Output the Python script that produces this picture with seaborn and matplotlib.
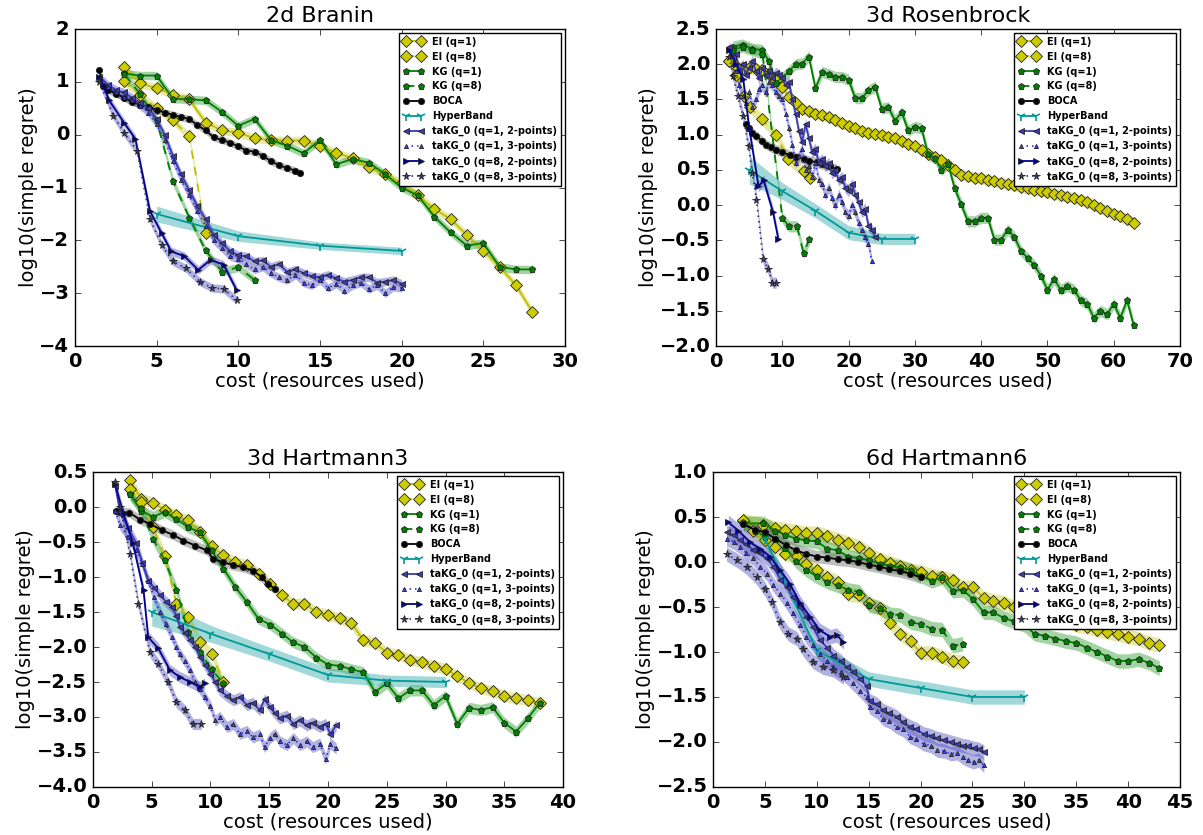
import matplotlib
matplotlib.use("Agg")
import matplotlib.pyplot as plt
import seaborn as sns
import numpy as np

# ---------------- 2d Branin ----------------
branin_ei1_x = [3, 4, 5, 6, 7, 8, 9, 10, 11, 12, 13, 14, 15, 16, 17, 18, 19, 20, 21, 22, 23, 24, 25, 26, 27, 28]
branin_ei1_y = [1.28, 0.97, 0.88, 0.76, 0.67, 0.23, 0.08, 0.04, -0.07, -0.10, -0.11, -0.11, -0.21, -0.34, -0.45,
                -0.62, -0.75, -0.92, -1.15, -1.4, -1.6, -1.9, -2.2, -2.5, -2.85, -3.35]
branin_ei8_x = [3, 4, 5, 6, 7, 8]
branin_ei8_y = [1.01, 0.75, 0.5, 0.27, -0.03, -1.86]
branin_kg1_x = [3, 4, 5, 6, 7, 8, 9, 10, 11, 12, 13, 14, 15, 16, 17, 18, 19, 20, 21, 22, 23, 24, 25, 26, 27, 28]
branin_kg1_y = [1.16, 1.12, 1.12, 0.68, 0.67, 0.65, 0.43, 0.17, 0.30, -0.10, -0.21, -0.35, -0.10, -0.56, -0.46,
                -0.53, -0.75, -1.0, -1.15, -1.55, -1.85, -2.1, -2.05, -2.5, -2.55, -2.55]
branin_kg8_x = [3, 4, 5, 6, 7, 8, 9, 10, 11]
branin_kg8_y = [1.15, 0.77, 0.27, -0.88, -1.57, -2.19, -2.59, -2.51, -2.75]
branin_boca_x = [1.5, 1.7, 2.0, 2.5, 3.0, 3.5, 4.0, 4.5, 5.0, 5.5, 6.0, 6.5, 7.0, 7.5, 8.0, 8.5, 9.0, 9.5, 10.0,
                 10.5, 11.0, 11.5, 12.0, 12.5, 13.0, 13.5, 13.8]
branin_boca_y = [1.22, 0.92, 0.85, 0.78, 0.70, 0.62, 0.57, 0.53, 0.47, 0.42, 0.38, 0.33, 0.30, 0.18, 0.08, -0.05,
                 -0.10, -0.15, -0.22, -0.30, -0.32, -0.40, -0.50, -0.58, -0.63, -0.68, -0.73]
branin_hb_x = [5, 10, 15, 20]
branin_hb_y = [-1.5, -1.92, -2.1, -2.2]
branin_hb_err = [0.15, 0.1, 0.07, 0.07]
branin_t12_x = [1.5, 2, 2.5, 3, 3.5, 4, 4.5, 5, 5.5, 6, 6.5, 7, 7.5, 8, 8.5, 9, 9.5, 10, 10.5, 11, 11.5, 12, 12.5,
                13, 13.5, 14, 14.5, 15, 15.5, 16, 16.5, 17, 17.5, 18, 18.5, 19, 19.5, 20]
branin_t12_y = [1.1, 0.95, 0.85, 0.8, 0.7, 0.6, 0.5, 0.3, 0.0, -0.4, -0.75, -1.05, -1.35, -1.6, -1.9, -2.05, -2.2,
                -2.28, -2.3, -2.4, -2.38, -2.5, -2.45, -2.6, -2.55, -2.62, -2.68, -2.7, -2.65, -2.72, -2.78, -2.75,
                -2.7, -2.7, -2.8, -2.78, -2.75, -2.82]
branin_t13_x = branin_t12_x
branin_t13_y = [1.05, 0.9, 0.8, 0.72, 0.65, 0.55, 0.42, 0.2, -0.1, -0.5, -0.85, -1.15, -1.45, -1.72, -2.0, -2.15,
                -2.3, -2.35, -2.45, -2.55, -2.5, -2.62, -2.7, -2.75, -2.65, -2.8, -2.85, -2.75, -2.9, -2.82, -2.95,
                -2.85, -2.8, -2.92, -2.85, -3.0, -2.88, -2.9]
branin_t82_x = [1.5, 2.1, 3.0, 3.7, 4.6, 5.3, 5.9, 6.7, 7.55, 8.3, 9.1, 9.9]
branin_t82_y = [1.1, 0.65, 0.23, -0.08, -1.45, -1.86, -2.21, -2.3, -2.56, -2.37, -2.46, -2.94]
branin_t83_x = [1.5, 2.35, 3.0, 3.8, 4.6, 5.3, 6.0, 6.8, 7.65, 8.4, 9.1, 9.9]
branin_t83_y = [1.0, 0.36, 0.04, -0.3, -1.6, -2.08, -2.4, -2.53, -2.78, -2.9, -2.92, -3.13]

# ---------------- 3d Rosenbrock ----------------
rosen_ei1_x = [2, 3, 4, 5, 6, 7, 8, 9, 10, 11, 12, 13, 14, 15, 16, 17, 18, 19, 20, 21, 22, 23, 24, 25, 26, 27, 28,
               29, 30, 31, 32, 33, 34, 35, 36, 37, 38, 39, 40, 41, 42, 43, 44, 45, 46, 47, 48, 49, 50, 51, 52, 53,
               54, 55, 56, 57, 58, 59, 60, 61, 62, 63]
rosen_ei1_y = [2.05, 1.98, 1.95, 1.95, 1.93, 1.92, 1.86, 1.78, 1.68, 1.53, 1.45, 1.37, 1.33, 1.30, 1.28, 1.25,
               1.21, 1.16, 1.13, 1.09, 1.05, 1.03, 1.01, 0.99, 0.97, 0.95, 0.91, 0.87, 0.84, 0.78, 0.73, 0.69, 0.64,
               0.57, 0.50, 0.43, 0.41, 0.39, 0.38, 0.36, 0.34, 0.31, 0.30, 0.28, 0.26, 0.24, 0.22, 0.20, 0.18, 0.16,
               0.14, 0.12, 0.10, 0.07, 0.04, 0.0, -0.04, -0.08, -0.12, -0.16, -0.20, -0.25]
rosen_ei8_x = [2, 3, 4.2, 5.1, 6.9, 9.1, 10.9, 13.2, 14.2]
rosen_ei8_y = [2.05, 1.85, 1.55, 1.39, 1.22, 1.0, 0.65, 0.48, 0.38]
rosen_kg1_x = [2.5, 4, 5.5, 7, 8, 9, 11, 12, 13, 14, 15, 16, 17, 18, 19, 20, 21, 22, 23, 24, 25, 26, 27, 28, 29, 30,
               31, 32, 33, 34, 35, 36, 37, 38, 39, 40, 41, 42, 43, 44, 45, 46, 47, 48, 49, 50, 51, 52, 53, 54, 55,
               56, 57, 58, 59, 60, 61, 62, 63]
rosen_kg1_y = [2.25, 2.28, 2.22, 2.2, 2.04, 1.73, 1.90, 2.0, 2.01, 2.11, 1.66, 1.89, 1.86, 1.82, 1.82, 1.78, 1.52,
               1.52, 1.63, 1.68, 1.37, 1.39, 1.20, 1.32, 1.06, 1.11, 1.09, 0.72, 0.67, 0.50, 0.59, 0.24, 0.01, -0.23,
               -0.23, -0.18, -0.18, -0.49, -0.49, -0.35, -0.45, -0.65, -0.75, -0.85, -1.0, -1.2, -1.05, -1.2, -1.15,
               -1.2, -1.35, -1.4, -1.6, -1.5, -1.55, -1.4, -1.6, -1.35, -1.7]
rosen_kg8_x = [2.5, 4, 5.5, 7, 10, 11, 12.2, 13.2, 14.1]
rosen_kg8_y = [2.2, 2.25, 2.2, 2.15, -0.18, -0.3, -0.3, -0.68, -0.48]
rosen_boca_x = [4.5, 4.9, 5.5, 6.1, 7.0, 7.6, 8.3, 9.1, 10.0, 11.2, 12.0, 13.2, 14.0, 15.2, 16.0, 17.2, 18.2]
rosen_boca_y = [1.15, 1.09, 1.03, 0.98, 0.91, 0.86, 0.82, 0.79, 0.75, 0.71, 0.68, 0.66, 0.63, 0.61, 0.58, 0.55, 0.51]
rosen_hb_x = [5, 10, 15, 20, 25, 30]
rosen_hb_y = [0.5, 0.2, -0.08, -0.39, -0.48, -0.48]
rosen_hb_err = [0.2, 0.12, 0.1, 0.1, 0.08, 0.08]
rosen_t12_x = [2, 2.5, 3, 3.5, 4, 4.5, 5, 5.5, 6, 6.5, 7, 7.5, 8, 8.5, 9, 9.5, 10, 10.5, 11, 11.5, 12, 12.5, 13,
               13.5, 14, 14.5, 15, 15.5, 16, 16.5, 17, 17.5, 18, 18.5, 19, 19.5, 20, 20.5, 21, 21.5, 22, 22.5, 23,
               23.5, 24]
rosen_t12_y = [2.25, 2.1, 2.15, 1.9, 2.0, 1.85, 1.95, 2.05, 1.9, 1.8, 1.95, 1.85, 1.9, 1.8, 1.88, 1.85, 1.8, 1.7,
               1.75, 1.5, 1.3, 1.05, 0.9, 1.15, 0.95, 0.75, 0.8, 0.6, 0.65, 0.55, 0.6, 0.45, 0.5, 0.35, 0.4, 0.25,
               0.2, 0.3, 0.15, 0.05, -0.1, -0.05, -0.3, -0.35, -0.45]
rosen_t13_x = [2, 2.5, 3, 3.5, 4, 4.5, 5, 5.5, 6, 6.5, 7, 7.5, 8, 8.5, 9, 9.5, 10, 10.5, 11, 11.5, 12, 12.5, 13,
               13.5, 14, 14.5, 15, 15.5, 16, 16.5, 17, 17.5, 18, 18.5, 19, 19.5, 20, 20.5, 21, 21.5, 22, 22.5, 23,
               23.5]
rosen_t13_y = [2.2, 2.0, 1.9, 1.7, 1.55, 1.45, 1.6, 1.4, 1.5, 1.65, 1.7, 1.6, 1.75, 1.7, 1.6, 1.55, 1.5, 1.3, 1.1,
               0.85, 0.6, 0.7, 0.8, 0.5, 0.55, 0.4, 0.6, 0.35, 0.3, 0.15, 0.25, 0.1, 0.0, 0.15, 0.05, -0.1, -0.15,
               0.0, -0.1, -0.25, -0.35, -0.45, -0.55, -0.8]
rosen_t82_x = [2, 3, 4.1, 5, 6.4, 7.2, 8.6, 9.4]
rosen_t82_y = [2.2, 2.0, 1.79, 1.1, 0.27, 0.35, -0.10, -0.48]
rosen_t83_x = [2, 2.6, 3.3, 4.1, 4.9, 5.5, 6.1, 7.1, 7.9, 8.5, 9.1]
rosen_t83_y = [2.1, 1.83, 1.55, 1.26, 0.84, 0.45, 0.08, -0.76, -0.91, -1.1, -1.1]

# ---------------- 3d Hartmann3 ----------------
hart3_ei1_x = [3.15, 4.1, 5.1, 6.1, 7.1, 8.1, 9.1, 10.1, 11.1, 12.1, 13.1, 14.1, 15.1, 16.1, 17, 18, 19, 20, 21,
               22, 23, 24, 25, 26, 27, 28, 29, 30, 31, 32, 33, 34, 35, 36, 37, 38]
hart3_ei1_y = [0.38, 0.12, 0.06, -0.04, -0.12, -0.19, -0.36, -0.56, -0.69, -0.79, -0.83, -0.95, -1.1, -1.26, -1.38,
               -1.38, -1.5, -1.54, -1.59, -1.66, -1.9, -1.94, -2.08, -2.11, -2.18, -2.22, -2.27, -2.31, -2.42,
               -2.51, -2.59, -2.63, -2.70, -2.73, -2.76, -2.80]
hart3_ei8_x = [3.15, 4.1, 5.1, 6.1, 7.1, 8.1, 9.1, 10.1, 11.1]
hart3_ei8_y = [0.26, 0.07, -0.29, -0.7, -1.38, -1.57, -1.93, -2.1, -2.5]
hart3_kg1_x = hart3_ei1_x
hart3_kg1_y = [0.18, -0.05, -0.14, -0.07, -0.17, -0.29, -0.36, -0.62, -0.88, -1.14, -1.36, -1.60, -1.68, -1.81,
               -1.93, -2.0, -2.15, -2.25, -2.27, -2.32, -2.36, -2.64, -2.52, -2.73, -2.62, -2.62, -2.83, -2.70,
               -3.1, -2.87, -2.9, -2.86, -3.08, -3.21, -3.02, -2.8]
hart3_kg8_x = [3.15, 4.1, 5.1, 6.1, 7.1, 8.1, 9.1, 10.1, 11.1]
hart3_kg8_y = [0.18, -0.02, -0.45, -0.76, -1.18, -1.79, -2.07, -2.32, -2.52]
hart3_boca_x = [2.0, 2.3, 3.1, 4.0, 4.85, 5.85, 6.85, 7.7, 8.7, 9.7, 10.2, 11.1, 11.9, 12.8, 13.6, 14.35, 14.9, 15.5]
hart3_boca_y = [-0.05, -0.07, -0.08, -0.18, -0.24, -0.33, -0.40, -0.48, -0.55, -0.62, -0.74, -0.79, -0.83, -0.86,
                -0.91, -1.0, -1.10, -1.17]
hart3_hb_x = [5, 10, 15, 20, 25, 30]
hart3_hb_y = [-1.5, -1.81, -2.1, -2.4, -2.48, -2.5]
hart3_hb_err = [0.2, 0.12, 0.1, 0.1, 0.08, 0.08]
hart3_t12_x = [1.9, 2.3, 3.0, 3.7, 4.2, 4.7, 5.2, 5.7, 6.2, 6.7, 7.1, 7.4, 7.8, 8.25, 8.7, 9.1, 9.5, 10.0, 10.4,
               10.8, 11.4, 11.95, 12.5, 13.1, 13.6, 14.2, 14.6, 15.06, 15.5, 15.9, 16.5, 17.05, 17.6, 18.2, 18.7,
               19.3, 19.8, 20.2, 20.7]
hart3_t12_y = [0.3, -0.07, -0.3, -0.52, -0.8, -1.05, -1.15, -1.26, -1.35, -1.43, -1.55, -1.71, -1.8, -1.9, -2.0,
               -2.14, -2.25, -2.38, -2.5, -2.62, -2.7, -2.76, -2.72, -2.83, -2.8, -2.9, -2.75, -2.86, -2.95, -3.02,
               -2.98, -3.1, -3.05, -3.12, -3.08, -3.14, -3.1, -3.24, -3.12]
hart3_t13_x = hart3_t12_x
hart3_t13_y = [-0.05, -0.25, -0.43, -0.62, -0.81, -1.05, -1.29, -1.5, -1.67, -1.85, -2.0, -2.1, -2.2, -2.33, -2.5,
               -2.6, -2.71, -2.85, -3.05, -3.0, -3.14, -3.1, -3.24, -3.2, -3.29, -3.25, -3.43, -3.3, -3.24, -3.35,
               -3.4, -3.3, -3.4, -3.35, -3.43, -3.38, -3.6, -3.38, -3.45]
hart3_t82_x = [1.87, 2.6, 3.4, 4.3, 4.7, 5.56, 6.55, 7.4, 8.25, 9.1, 9.5]
hart3_t82_y = [0.33, -0.1, -0.52, -1.19, -1.86, -2.02, -2.33, -2.43, -2.5, -2.57, -2.52]
hart3_t83_x = [1.87, 2.3, 3.15, 3.86, 4.85, 5.56, 6.4, 7.1, 7.8, 8.5, 9.2]
hart3_t83_y = [0.36, 0.0, -0.67, -1.38, -2.07, -2.24, -2.5, -2.79, -2.9, -3.1, -3.1]

# ---------------- 6d Hartmann6 ----------------
hart6_ei1_x = [2.93, 4.86, 6.0, 6.95, 8.0, 9.0, 10.0, 11.0, 12.0, 13.05, 14.1, 15.05, 16.05, 17.1, 18.0, 19.07,
               20.0, 21.1, 22.06, 23.1, 24.05, 25.05, 26.1, 27.0, 28, 29, 30, 31, 32, 33, 34, 35, 36, 37, 38, 39,
               40, 41, 42, 43]
hart6_ei1_y = [0.46, 0.41, 0.38, 0.36, 0.34, 0.32, 0.32, 0.29, 0.25, 0.21, 0.17, 0.10, 0.03, -0.01, -0.04, -0.09,
               -0.11, -0.15, -0.17, -0.20, -0.28, -0.28, -0.40, -0.43, -0.45, -0.5, -0.55, -0.58, -0.62, -0.63,
               -0.65, -0.7, -0.72, -0.75, -0.78, -0.8, -0.83, -0.85, -0.9, -0.92]
hart6_ei8_x = [2.93, 3.9, 5.0, 6.0, 6.95, 8.07, 9.0, 10.0, 11.0, 12.0, 13.05, 14.1, 15.05, 16.05, 17.1, 18.0,
               19.07, 20.0, 21.1, 22.06, 23.1, 24.05]
hart6_ei8_y = [0.47, 0.35, 0.24, 0.17, 0.09, 0.07, -0.02, -0.09, -0.17, -0.22, -0.36, -0.37, -0.46, -0.51, -0.68,
               -0.80, -0.88, -1.01, -1.01, -1.05, -1.1, -1.11]
hart6_kg1_x = hart6_ei1_x
hart6_kg1_y = [0.43, 0.43, 0.35, 0.30, 0.26, 0.24, 0.23, 0.15, 0.13, 0.06, 0.04, 0.02, -0.02, -0.04, -0.06, -0.09,
               -0.15, -0.21, -0.17, -0.32, -0.31, -0.41, -0.56, -0.56, -0.62, -0.66, -0.7, -0.8, -0.82, -0.85,
               -0.88, -0.9, -0.95, -1.0, -1.05, -1.1, -1.1, -1.08, -1.12, -1.18]
hart6_kg8_x = [2.93, 4.05, 5.0, 6.0, 6.95, 8.0, 9.0, 10.0, 11.0, 12.0, 13.05, 14.1, 15.05, 16.05, 17.1, 18.0,
               19.07, 20.0, 21.1, 22.06, 23.1, 24.05]
hart6_kg8_y = [0.44, 0.35, 0.28, 0.26, 0.16, 0.01, -0.09, -0.16, -0.22, -0.26, -0.31, -0.33, -0.48, -0.51, -0.58,
               -0.59, -0.67, -0.69, -0.74, -0.75, -0.93, -0.91]
hart6_boca_x = [2.9, 4, 5, 6, 7, 8, 9, 10, 11, 12, 13, 14, 15, 16, 17, 18, 19, 20]
hart6_boca_y = [0.42, 0.36, 0.33, 0.26, 0.19, 0.13, 0.09, 0.06, 0.05, 0.03, 0.02, 0.0, -0.03, -0.05, -0.08, -0.1,
                -0.13, -0.17]
hart6_hb_x = [5, 10, 15, 20, 25, 30]
hart6_hb_y = [0.26, -0.98, -1.3, -1.4, -1.5, -1.5]
hart6_hb_err = [0.08, 0.08, 0.08, 0.08, 0.08, 0.08]
hart6_t12_x = [1.3, 2.0, 2.6, 3.2, 3.9, 4.5, 5.2, 5.8, 6.5, 7.1, 7.75, 8.4, 9.0, 9.6, 10.3, 11.0, 11.6, 12.3, 12.9,
               13.5, 14.2, 14.8, 15.1, 15.8, 16.4, 17.0, 17.7, 18.3, 19.0, 19.6, 20.3, 21.0, 21.6, 22.3, 22.9, 23.5,
               24.1, 24.6, 25.1, 25.6, 26.1]
hart6_t12_y = [0.33, 0.3, 0.24, 0.2, 0.13, 0.1, 0.04, -0.05, -0.2, -0.28, -0.39, -0.5, -0.61, -0.72, -0.87, -0.95,
               -1.04, -1.1, -1.17, -1.22, -1.3, -1.38, -1.54, -1.58, -1.65, -1.68, -1.72, -1.78, -1.83, -1.86,
               -1.91, -1.93, -1.96, -1.98, -2.0, -2.02, -2.04, -2.05, -2.07, -2.08, -2.11]
hart6_t13_x = hart6_t12_x
hart6_t13_y = [0.26, 0.22, 0.17, 0.1, 0.04, -0.05, -0.13, -0.25, -0.35, -0.45, -0.57, -0.7, -0.83, -0.92, -1.02,
               -1.1, -1.17, -1.22, -1.28, -1.35, -1.43, -1.5, -1.61, -1.66, -1.74, -1.77, -1.83, -1.86, -1.94,
               -1.97, -2.02, -2.04, -2.09, -2.1, -2.13, -2.12, -2.17, -2.2, -2.22, -2.2, -2.26]
hart6_t82_x = [1.48, 2.44, 3.57, 4.5, 5.5, 6.46, 7.4, 8.4, 9.36, 10.3, 11.3, 11.9, 12.57]
hart6_t82_y = [0.44, 0.35, 0.22, 0.15, 0.06, -0.09, -0.24, -0.46, -0.61, -0.76, -0.83, -0.81, -0.89]
hart6_t83_x = [1.3, 2.3, 3.25, 4.2, 5.0, 5.66, 6.46, 7.27, 8.07, 8.7, 9.68, 10.6, 11.6, 12.57]
hart6_t83_y = [0.09, 0.02, -0.06, -0.17, -0.30, -0.44, -0.67, -0.80, -0.85, -0.97, -1.11, -1.17, -1.2, -1.28]

methods = ["EI (q=1)", "EI (q=8)", "KG (q=1)", "KG (q=8)", "BOCA", "HyperBand",
           "taKG_0 (q=1, 2-points)", "taKG_0 (q=1, 3-points)", "taKG_0 (q=8, 2-points)", "taKG_0 (q=8, 3-points)"]
# half-width of the shaded band per method (HyperBand uses per-panel arrays)
band_err = [0.08, 0.08, 0.08, 0.08, 0.07, None, 0.08, 0.08, 0.08, 0.08]

line_colors = ["#bfbf00", "#bfbf00", "#008000", "#008000", "black", "#009a9a",
               "#3c3cb4", "#2a2af0", "#000090", "#2a2a70"]
face_colors = ["#cccc00", "#cccc00", "#008000", "#008000", "black", "#009a9a",
               "#3c3cb4", "#4040ff", "#000090", "#404080"]
band_colors = ["#cccc33", "#cccc33", "#33a033", "#33a033", "#707070", "#33aaaa",
               "#5555c0", "#5555c0", "#5555c0", "#5555c0"]
markers = ["D", "D", "p", "p", "o", "1", "<", "^", ">", "*"]
linestyles = ["-", "--", "-", "--", "-", "-", "-", ":", "-", ":"]
msizes = [6, 6, 5, 5, 4.5, 7, 4, 3, 5, 5.5]

panels = [
    ("2d Branin", (0, 30), (-4, 2), branin_hb_err,
     [(branin_ei1_x, branin_ei1_y), (branin_ei8_x, branin_ei8_y), (branin_kg1_x, branin_kg1_y),
      (branin_kg8_x, branin_kg8_y), (branin_boca_x, branin_boca_y), (branin_hb_x, branin_hb_y),
      (branin_t12_x, branin_t12_y), (branin_t13_x, branin_t13_y), (branin_t82_x, branin_t82_y),
      (branin_t83_x, branin_t83_y)]),
    ("3d Rosenbrock", (0, 70), (-2, 2.5), rosen_hb_err,
     [(rosen_ei1_x, rosen_ei1_y), (rosen_ei8_x, rosen_ei8_y), (rosen_kg1_x, rosen_kg1_y),
      (rosen_kg8_x, rosen_kg8_y), (rosen_boca_x, rosen_boca_y), (rosen_hb_x, rosen_hb_y),
      (rosen_t12_x, rosen_t12_y), (rosen_t13_x, rosen_t13_y), (rosen_t82_x, rosen_t82_y),
      (rosen_t83_x, rosen_t83_y)]),
    ("3d Hartmann3", (0, 40), (-4, 0.5), hart3_hb_err,
     [(hart3_ei1_x, hart3_ei1_y), (hart3_ei8_x, hart3_ei8_y), (hart3_kg1_x, hart3_kg1_y),
      (hart3_kg8_x, hart3_kg8_y), (hart3_boca_x, hart3_boca_y), (hart3_hb_x, hart3_hb_y),
      (hart3_t12_x, hart3_t12_y), (hart3_t13_x, hart3_t13_y), (hart3_t82_x, hart3_t82_y),
      (hart3_t83_x, hart3_t83_y)]),
    ("6d Hartmann6", (0, 45), (-2.5, 1.0), hart6_hb_err,
     [(hart6_ei1_x, hart6_ei1_y), (hart6_ei8_x, hart6_ei8_y), (hart6_kg1_x, hart6_kg1_y),
      (hart6_kg8_x, hart6_kg8_y), (hart6_boca_x, hart6_boca_y), (hart6_hb_x, hart6_hb_y),
      (hart6_t12_x, hart6_t12_y), (hart6_t13_x, hart6_t13_y), (hart6_t82_x, hart6_t82_y),
      (hart6_t83_x, hart6_t83_y)]),
]

plt.style.use("classic")
plt.rcParams["figure.facecolor"] = "white"
plt.rcParams["savefig.facecolor"] = "white"
plt.rcParams["font.family"] = ["DejaVu Sans"]
plt.rcParams["font.weight"] = "bold"

fig = plt.figure(figsize=(12.03, 8.35), dpi=100)
boxes = [
    [0.0623, 0.5856, 0.4073, 0.3796],
    [0.5952, 0.5856, 0.3857, 0.3796],
    [0.0773, 0.0575, 0.3907, 0.3772],
    [0.5927, 0.0575, 0.3882, 0.3772],
]

for box, (title, xlim, ylim, hb_err, series) in zip(boxes, panels):
    ax = fig.add_axes(box)
    for i, (xs, ys) in enumerate(series):
        err = np.array(hb_err) if i == 5 else band_err[i]
        yv = np.array(ys)
        ax.fill_between(xs, yv - err, yv + err, color=band_colors[i], alpha=0.45, lw=0)
        sns.lineplot(x=xs, y=ys, ax=ax, sort=False, estimator=None,
                     color=line_colors[i], linestyle=linestyles[i], linewidth=1.3,
                     marker=markers[i], markersize=msizes[i],
                     markerfacecolor=face_colors[i],
                     markeredgecolor=line_colors[i] if i == 5 else "#222222",
                     markeredgewidth=1.2 if i == 5 else 0.6,
                     label=methods[i])
    ax.set_xlim(*xlim)
    ax.set_ylim(*ylim)
    ax.set_title(title, fontsize=16, fontweight="normal")
    ax.set_xlabel("cost (resources used)", fontsize=14, fontweight="normal", labelpad=1)
    ax.set_ylabel("log10(simple regret)", fontsize=14, fontweight="normal", labelpad=1)
    ax.tick_params(labelsize=14)
    ax.legend(loc="upper right", borderaxespad=0.4, numpoints=2,
              prop={"weight": "bold", "size": 7}, handlelength=2.2)

fig.savefig("out.png", dpi=100)
